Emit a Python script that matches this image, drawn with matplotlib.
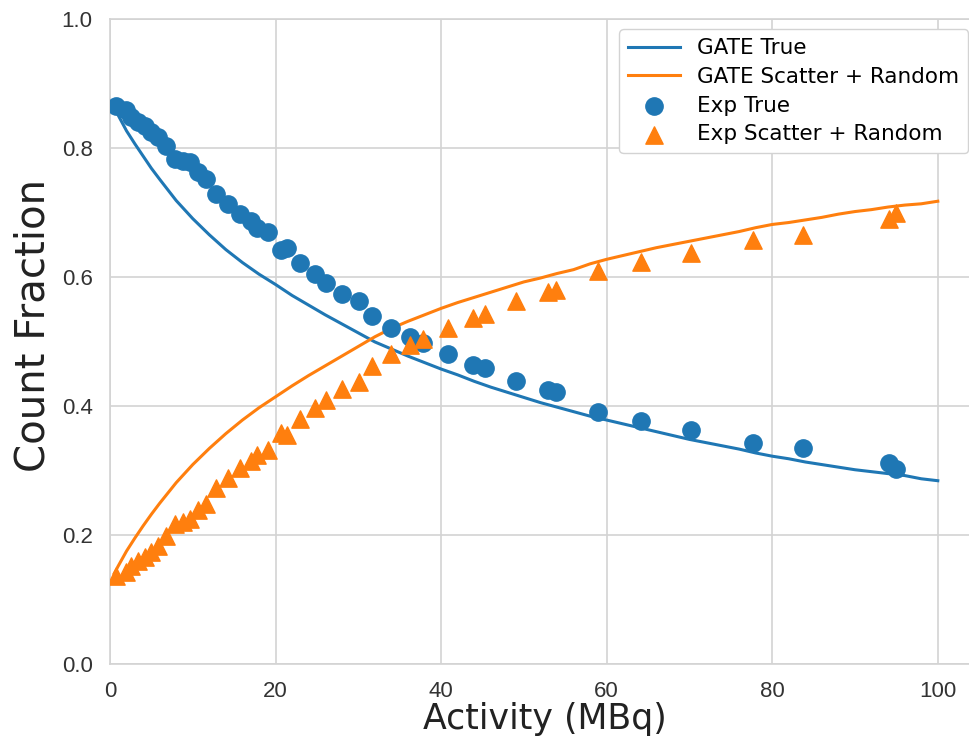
import matplotlib
matplotlib.use('Agg')

import matplotlib.pyplot as plt

# GATE simulation curves
gate_x = [0.5, 1, 2, 3, 4, 5, 6, 8, 10, 12, 14, 16, 18, 20, 22, 24, 26, 28, 30,
          32, 34, 36, 38, 40, 42, 44, 46, 48, 50, 52, 54, 56, 58, 60, 62, 64, 66,
          68, 70, 72, 74, 76, 78, 80, 82, 84, 86, 88, 90, 92, 94, 96, 98, 100]
gate_true = [0.862, 0.850, 0.826, 0.806, 0.787, 0.768, 0.751, 0.718, 0.690, 0.665,
             0.642, 0.622, 0.604, 0.588, 0.571, 0.556, 0.541, 0.527, 0.513, 0.499,
             0.488, 0.477, 0.467, 0.457, 0.448, 0.438, 0.429, 0.421, 0.413, 0.405,
             0.398, 0.391, 0.384, 0.378, 0.372, 0.366, 0.360, 0.354, 0.348, 0.343,
             0.338, 0.333, 0.327, 0.322, 0.318, 0.313, 0.309, 0.305, 0.301, 0.298,
             0.295, 0.292, 0.287, 0.284]
gate_scatter = [0.140, 0.152, 0.175, 0.195, 0.214, 0.232, 0.249, 0.281, 0.309, 0.334,
                0.357, 0.378, 0.397, 0.414, 0.431, 0.447, 0.462, 0.477, 0.492, 0.507,
                0.520, 0.531, 0.541, 0.551, 0.560, 0.568, 0.576, 0.584, 0.592, 0.598,
                0.605, 0.611, 0.620, 0.627, 0.633, 0.639, 0.645, 0.650, 0.655, 0.660,
                0.665, 0.670, 0.676, 0.681, 0.684, 0.688, 0.692, 0.697, 0.701, 0.704,
                0.708, 0.711, 0.713, 0.717]

# 실험 데이터
exp_x = [0.7, 1.9, 2.5, 3.4, 4.2, 5.0, 5.8, 6.8, 7.9, 8.8, 9.7, 10.6, 11.6, 12.8,
         14.3, 15.7, 17.0, 17.7, 19.1, 20.7, 21.4, 23.0, 24.8, 26.1, 28.0, 30.1,
         31.6, 34.0, 36.3, 37.8, 40.8, 43.9, 45.3, 49.0, 52.9, 53.9, 58.9, 64.2,
         70.2, 77.7, 83.7, 94.1, 95.0]
exp_true = [0.865, 0.859, 0.847, 0.840, 0.833, 0.825, 0.817, 0.802, 0.783, 0.780,
            0.777, 0.762, 0.752, 0.728, 0.712, 0.697, 0.686, 0.676, 0.669, 0.642,
            0.645, 0.621, 0.604, 0.591, 0.574, 0.563, 0.539, 0.520, 0.506, 0.497,
            0.480, 0.464, 0.458, 0.438, 0.424, 0.421, 0.391, 0.377, 0.363, 0.343,
            0.335, 0.311, 0.302]
exp_scatter = [0.136, 0.142, 0.152, 0.159, 0.166, 0.174, 0.183, 0.198, 0.217, 0.220,
               0.224, 0.238, 0.248, 0.272, 0.288, 0.303, 0.315, 0.324, 0.331, 0.358,
               0.355, 0.379, 0.396, 0.409, 0.426, 0.437, 0.461, 0.480, 0.494, 0.503,
               0.520, 0.536, 0.542, 0.562, 0.576, 0.579, 0.609, 0.623, 0.637, 0.657,
               0.665, 0.689, 0.698]

blue = '#1f77b4'
orange = '#ff7f0e'

fig = plt.figure(figsize=(9.69, 7.51), dpi=100)
# 오른쪽은 원본처럼 그림 밖으로 살짝 잘리게 배치
ax = fig.add_axes([0.1135, 0.1158, 0.897, 0.8595])

ax.plot(gate_x, gate_true, color=blue, lw=2.2, label='GATE True')
ax.plot(gate_x, gate_scatter, color=orange, lw=2.2, label='GATE Scatter + Random')
ax.scatter(exp_x, exp_true, color=blue, marker='o', s=155, label='Exp True', zorder=3)
ax.scatter(exp_x, exp_scatter, color=orange, marker='^', s=155,
           label='Exp Scatter + Random', zorder=3)

ax.set_xlim(0, 105)
ax.set_ylim(0, 1.0)
ax.set_xticks([0, 20, 40, 60, 80, 100])
ax.set_yticks([0.0, 0.2, 0.4, 0.6, 0.8, 1.0])
ax.grid(True, color='#d3d3d3', lw=1.2)
ax.set_axisbelow(True)
for sp in ax.spines.values():
    sp.set_color('#d3d3d3')
    sp.set_linewidth(1.2)
ax.tick_params(labelsize=16, colors='#333333', length=0, pad=12.5)
for lab in ax.get_xticklabels() + ax.get_yticklabels():
    lab.set_family('Liberation Sans')

ax.set_xlabel('Activity (MBq)', fontsize=25, color='#222222', labelpad=0)
ax.set_ylabel('Count Fraction', fontsize=29, color='#222222', labelpad=5.5, y=0.525)

leg = ax.legend(loc='upper right', fontsize=15.5, frameon=True, framealpha=1,
                edgecolor='#d3d3d3', borderpad=0.42, labelspacing=0.4,
                handlelength=2.4, handletextpad=0.8)

plt.savefig('out.png', dpi=100)
plt.close()
